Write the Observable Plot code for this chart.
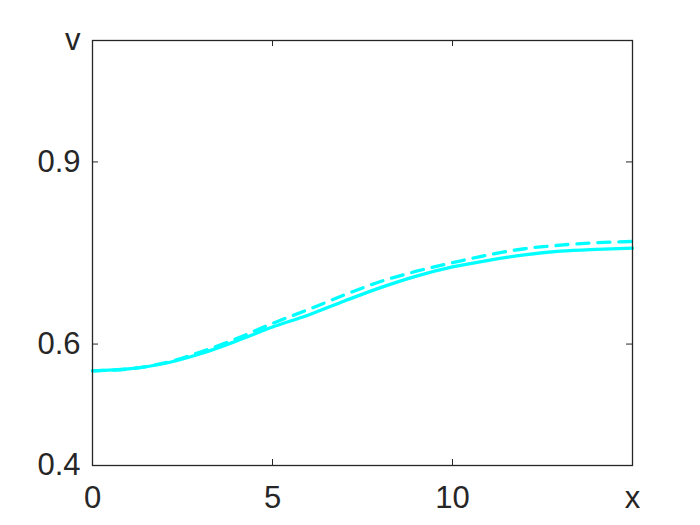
<!DOCTYPE html>
<html>
<head>
<meta charset="utf-8">
<script src="https://cdn.jsdelivr.net/npm/d3@7"></script>
<script src="https://cdn.jsdelivr.net/npm/@observablehq/plot@0.6"></script>
<style>
  html, body { margin: 0; padding: 0; background: #fff; }
  #chart { width: 700px; height: 525px; }
</style>
</head>
<body>
<div id="chart"></div>
<script>
// x positions
const xs = [0, 1, 2, 3, 4, 5, 6, 7, 8, 9, 10, 11, 12, 13, 14, 15];
// solid series
const vSolid = [0.556, 0.559, 0.568, 0.584, 0.605, 0.628, 0.648, 0.671, 0.693, 0.712, 0.727, 0.738, 0.747, 0.753, 0.756, 0.758];
// dashed series
const vDashed = [0.556, 0.559, 0.569, 0.587, 0.609, 0.634, 0.657, 0.681, 0.703, 0.720, 0.734, 0.747, 0.757, 0.763, 0.767, 0.769];
// tick values and labels
const xTicks = [0, 5, 10, 15];
const xTickLabels = ["0", "5", "10", "x"];
const yTicks = [0.4, 0.6, 0.9, 1.1];
const yTickLabels = ["0.4", "0.6", "0.9", "v"];

const solid = xs.map((x, i) => ({x, v: vSolid[i]}));
const dashed = xs.map((x, i) => ({x, v: vDashed[i]}));

const W = 700, H = 525, mL = 92, mR = 68, mT = 40, mB = 60;
const pw = W - mL - mR, ph = H - mT - mB;
const tk = 6;
const ink = "#262626";
const cyan = "#00FFFF";

const chart = Plot.plot({
  width: W,
  height: H,
  marginLeft: mL,
  marginRight: mR,
  marginTop: mT,
  marginBottom: mB,
  style: {fontFamily: "'Liberation Sans', Arial, Helvetica, sans-serif", fontSize: "31px", color: ink, background: "#fff"},
  x: {domain: [0, 15]},
  y: {domain: [0.4, 1.1]},
  marks: [
    Plot.line(dashed, {x: "x", y: "v", stroke: cyan, strokeWidth: 3.3, strokeDasharray: "12,9", curve: "catmull-rom"}),
    Plot.line(solid, {x: "x", y: "v", stroke: cyan, strokeWidth: 3.3, curve: "catmull-rom"}),
    Plot.frame({stroke: ink, strokeWidth: 1.3}),
    // inward ticks on all four sides
    Plot.tickX(xTicks.slice(1, -1), {x: d => d, stroke: ink, insetTop: ph - tk}),
    Plot.tickX(xTicks.slice(1, -1), {x: d => d, stroke: ink, insetBottom: ph - tk}),
    Plot.tickY(yTicks.slice(1, -1), {y: d => d, stroke: ink, insetRight: pw - tk}),
    Plot.tickY(yTicks.slice(1, -1), {y: d => d, stroke: ink, insetLeft: pw - tk}),
    Plot.axisX({ticks: xTicks, tickSize: 0, tickPadding: 20, tickFormat: d => xTickLabels[xTicks.indexOf(d)], fontSize: 31, fill: ink, label: null}),
    Plot.axisY({ticks: yTicks, tickSize: 0, tickPadding: 12, tickFormat: d => yTickLabels[yTicks.indexOf(d)], fontSize: 31, fill: ink, label: null})
  ]
});
document.getElementById("chart").appendChild(chart);
</script>
</body>
</html>
